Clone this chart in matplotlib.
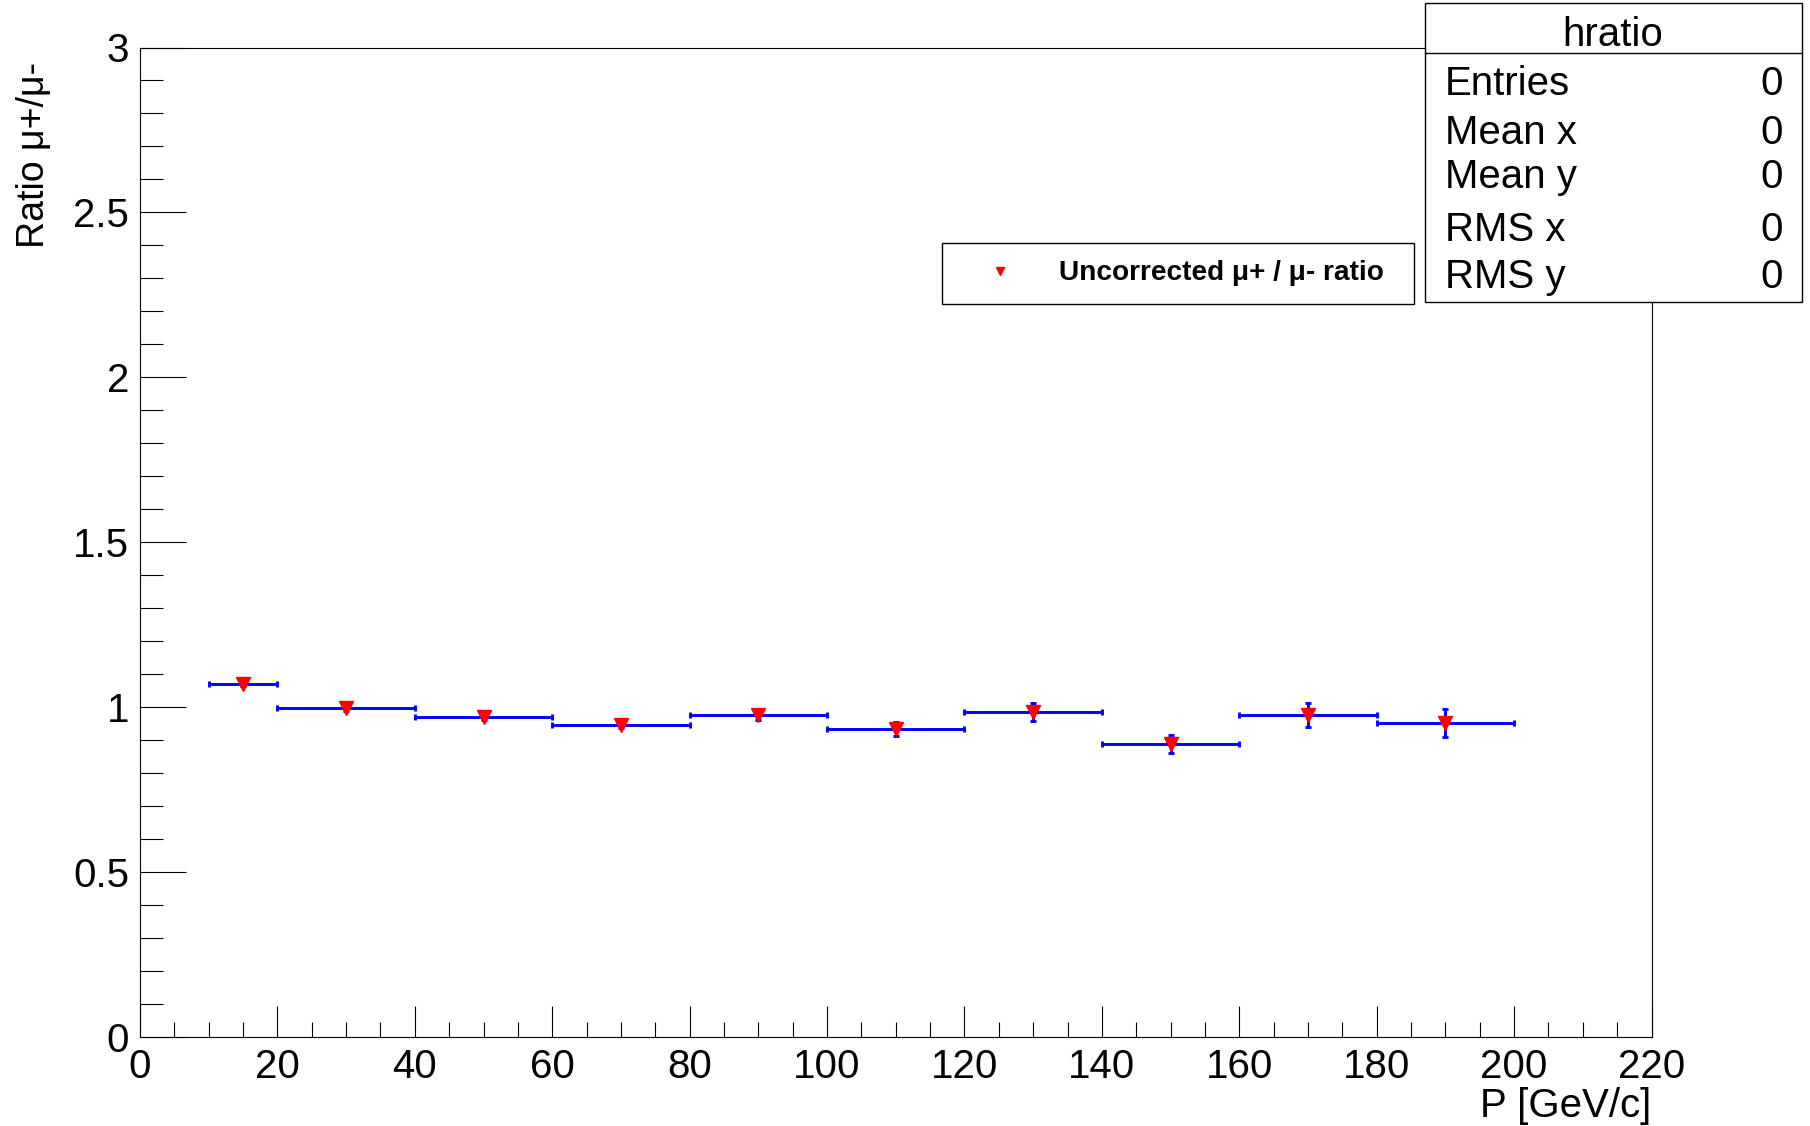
import numpy as np
import matplotlib
matplotlib.use("Agg")
import matplotlib.pyplot as plt
from matplotlib.patches import Rectangle
from matplotlib.lines import Line2D

# ---------------- data ----------------
p_center = [15, 30, 50, 70, 90, 110, 130, 150, 170, 190]
p_halfwidth = [5, 10, 10, 10, 10, 10, 10, 10, 10, 10]
ratio = [1.071, 0.997, 0.970, 0.948, 0.976, 0.934, 0.985, 0.889, 0.976, 0.953]
ratio_err = [0.006, 0.007, 0.009, 0.011, 0.014, 0.021, 0.027, 0.028, 0.036, 0.043]

x_ticks = [0, 20, 40, 60, 80, 100, 120, 140, 160, 180, 200, 220]
x_tick_labels = ["0", "20", "40", "60", "80", "100", "120", "140", "160", "180", "200", "220"]
y_ticks = [0, 0.5, 1, 1.5, 2, 2.5, 3]
y_tick_labels = ["0", "0.5", "1", "1.5", "2", "2.5", "3"]

legend_label = "Uncorrected μ+ / μ- ratio"
stats_title = "hratio"
stats_names = ["Entries", "Mean x", "Mean y", "RMS x", "RMS y"]
stats_values = ["0", "0", "0", "0", "0"]

# ---------------- figure ----------------
plt.rcParams['font.family'] = ['Liberation Sans', 'DejaVu Sans']
W, H = 1810, 1126
fig = plt.figure(figsize=(W / 100, H / 100), dpi=100)
fig.patch.set_facecolor("white")


def fx(px):
    return px / W


def fy(py):
    return 1 - py / H


ax_l, ax_r, ax_t, ax_b = 140, 1651.5, 47.5, 1037.3
ax = fig.add_axes([fx(ax_l), fy(ax_b), (ax_r - ax_l) / W, (ax_b - ax_t) / H])

ax.errorbar(p_center, ratio, xerr=p_halfwidth, yerr=ratio_err, fmt='none',
            ecolor='#0000ff', elinewidth=2.1, capsize=2.2, capthick=2.1, zorder=2)
pts, = ax.plot(p_center, ratio, linestyle='none', marker='v', ms=9.5,
               color='#ff0000', mec='#ff0000', zorder=3)

ax.set_xlim(0, 220)
ax.set_ylim(0, 3)
ax.set_xticks(x_ticks)
ax.set_xticklabels(x_tick_labels)
ax.set_xticks(np.arange(0, 221, 5), minor=True)
ax.set_yticks(y_ticks)
ax.set_yticklabels(y_tick_labels)
ax.set_yticks(np.arange(0, 3.001, 0.1), minor=True)

for s in ax.spines.values():
    s.set_linewidth(0.8)
    s.set_color('black')

ax.tick_params(which='both', direction='in', top=False, right=False, colors='black')
ax.tick_params(axis='x', which='major', length=22.3, width=0.8, pad=7.8, labelsize=29)
ax.tick_params(axis='x', which='minor', length=10.8, width=0.8)
ax.tick_params(axis='y', which='major', length=33, width=0.8, pad=8, labelsize=29)
ax.tick_params(axis='y', which='minor', length=16.6, width=0.8)

# axis titles
fig.text(fx(34), fy(62), "Ratio μ+/μ-", rotation=90, ha='center', va='top', size=27)
fig.text(fx(1651), fy(1117), "P [GeV/c]", ha='right', va='baseline', size=29)

# legend
lx0, lx1, ly0, ly1 = 942, 1414, 241.7, 305
leg = ax.legend(handles=[pts], labels=[legend_label], loc='center left',
                bbox_to_anchor=(fx(lx0), fy(ly1), (lx1 - lx0) / W, (ly1 - ly0) / H),
                bbox_transform=fig.transFigure, mode='expand', borderaxespad=0,
                borderpad=0.63, handlelength=2.9, handletextpad=0.65, markerscale=0.6,
                numpoints=1, fancybox=False, framealpha=1, edgecolor='black',
                prop={'weight': 'bold', 'size': 20.2, 'family': 'Liberation Sans'})
leg.get_frame().set_linewidth(1.0)

# stats box
sx0, sx1, sy0, sy1 = 1425, 1802, 3.3, 301.7
fig.add_artist(Rectangle((fx(sx0), fy(sy1)), (sx1 - sx0) / W, (sy1 - sy0) / H,
                         transform=fig.transFigure, facecolor='white',
                         edgecolor='black', lw=1.0, zorder=10))
fig.add_artist(Line2D([fx(sx0), fx(sx1)], [fy(53.3), fy(53.3)],
                      transform=fig.transFigure, color='black', lw=1.0, zorder=11))
fig.text(fx(1613), fy(46), stats_title, ha='center', va='baseline', size=29, zorder=12)
row_base = [95, 143.5, 188.5, 241, 288]
for name, val, yb in zip(stats_names, stats_values, row_base):
    fig.text(fx(1445), fy(yb), name, ha='left', va='baseline', size=29, zorder=12)
    fig.text(fx(1783), fy(yb), val, ha='right', va='baseline', size=29, zorder=12)

fig.savefig("out.png", dpi=100, facecolor='white')
